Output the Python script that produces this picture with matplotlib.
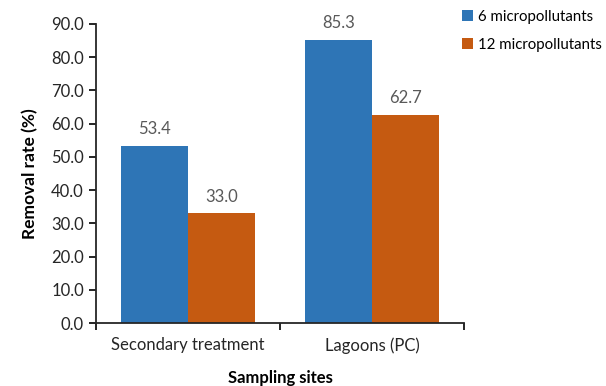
import matplotlib
matplotlib.use("Agg")
import matplotlib.pyplot as plt
import numpy as np

# dane z wykresu
sites = ["Secondary treatment", "Lagoons (PC)"]
series_names = ["6 micropollutants", "12 micropollutants"]
removal_6 = [53.4, 85.3]
removal_12 = [33.0, 62.7]
colors = ["#2E75B6", "#C55A11"]

plt.rcParams['font.family'] = ['Lato', 'DejaVu Sans']

fig = plt.figure(figsize=(6.06, 3.86), dpi=100)
ax = fig.add_axes([0.158, 0.163, 0.608, 0.775])

x = np.arange(len(sites))
w = 0.364
bars1 = ax.bar(x - w / 2, removal_6, w, color=colors[0], label=series_names[0])
bars2 = ax.bar(x + w / 2, removal_12, w, color=colors[1], label=series_names[1])

# etykiety wartości
for bars in (bars1, bars2):
    for b in bars:
        ax.annotate(f"{b.get_height():.1f}", (b.get_x() + b.get_width() / 2, b.get_height()),
                    xytext=(0, 6), textcoords="offset points", ha="center", va="bottom",
                    fontsize=12, color="#595959")

ax.set_xlim(-0.5, 1.5)
ax.set_ylim(0, 90)
ax.set_yticks(np.arange(0, 91, 10))
ax.set_yticklabels([f"{v:.1f}" for v in np.arange(0, 91, 10)], fontsize=12, color="#262626")
ax.set_xticks([-0.5, 0.5, 1.5])
ax.set_xticklabels([])
ax.set_xticks(x, minor=True)
ax.set_xticklabels(sites, minor=True, fontsize=12, color="#262626")
ax.tick_params(axis="x", which="minor", length=0, pad=10)
ax.tick_params(axis="x", which="major", length=5, width=1.2)
ax.tick_params(axis="y", length=5, width=1.2)

for s in ("top", "right"):
    ax.spines[s].set_visible(False)
for s in ("left", "bottom"):
    ax.spines[s].set_linewidth(1.3)
    ax.spines[s].set_color("#262626")

ax.set_ylabel("Removal rate (%)", fontsize=12.5, fontweight="bold", labelpad=9)
ax.set_xlabel("Sampling sites", fontsize=12, fontweight="bold", labelpad=12)

# legenda po prawej, poza osiami
leg = ax.legend(loc="upper left", bbox_to_anchor=(0.752, 0.99), bbox_transform=fig.transFigure,
                frameon=False, fontsize=10.8, handlelength=0.75, handleheight=0.75,
                handletextpad=0.35, labelspacing=0.95, borderaxespad=0)

fig.savefig("out.png", dpi=100)
